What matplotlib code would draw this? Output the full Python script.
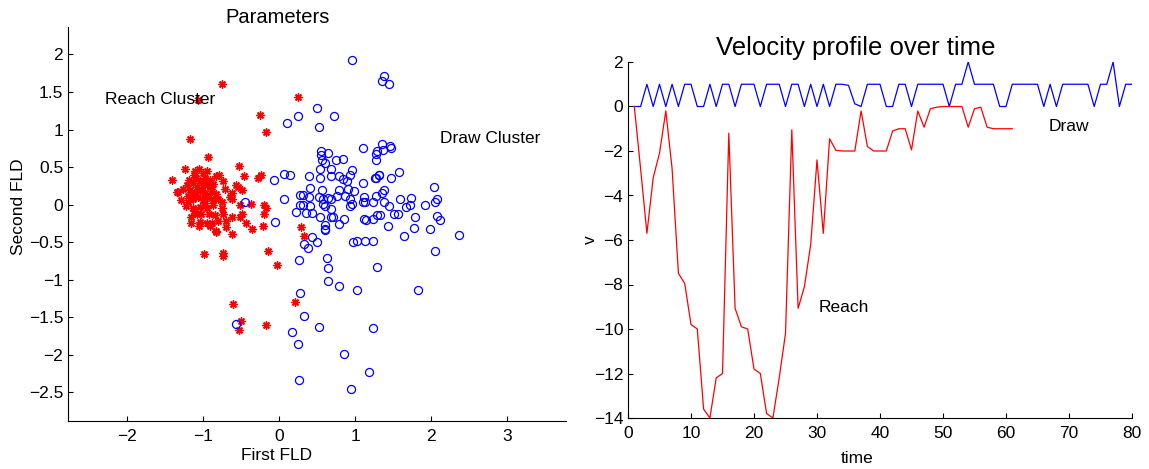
import matplotlib
matplotlib.use("Agg")
import matplotlib.pyplot as plt
import numpy as np

plt.rcParams['font.family'] = ['Liberation Sans', 'DejaVu Sans']

# ---- Parameters (FLD projection) ----
draw_x = [0.96, 1.38, 1.36, 1.44, 0.50, 0.25, 0.10, 0.72, 0.53,
          1.11, 1.29, 1.28, 1.28, 0.55, 0.65, 0.55, 0.57, 0.60,
          0.75, 0.84, 0.54, 0.68, 0.96, 0.93, -0.07, 0.07, 0.14, 0.39, 0.54, 0.68,
          0.79, 0.84, 0.90, 1.27, 1.31, 1.10, 0.41, 0.56, 0.79, 0.91, 0.99,
          0.28, 0.31, 0.40, 0.52, 0.58, 0.65, 0.69, 0.76, 0.87, 0.93, 1.12, 1.13, 1.28, 0.07,
          0.28, 0.32, 0.41, 0.58, 0.61, 0.93, 0.96, 1.11, 1.23,
          0.23, 0.36, 0.44, 0.69, 0.71, 0.68, 0.54, 0.85, 0.79,
          0.60, 0.61, 0.61, 1.12, 1.15, 1.24, 1.29, -0.05, 0.43,
          1.35, 1.37, 1.46, 1.47, 1.32, 1.26, 1.47, 1.58, 2.03,
          1.38, 1.35, 1.38, 1.45, 1.59, 1.73, 1.72, 1.67, 1.92, 2.05, 2.08,
          1.51, 1.57, 1.33, 1.79, 2.08, 2.12, 1.43, 1.77, 1.98, 1.64, 2.37, 1.23, 2.05, 1.29,
          1.83, 1.24, 1.18,
          0.33, 0.38, 0.50, 0.97, 1.03, 1.13, 0.26, 0.63, 0.65, 0.64, 0.79, 1.02, 0.28,
          0.33, 0.53, 0.17, -0.56, 0.25, 0.85, 0.27, 0.94, -0.44]
draw_y = [1.93, 1.72, 1.65, 1.61, 1.29, 1.18, 1.09, 1.18, 1.04,
          0.76, 0.72, 0.68, 0.59, 0.72, 0.69, 0.66, 0.59, 0.55,
          0.60, 0.61, 0.48, 0.48, 0.46, 0.40, 0.33, 0.41, 0.39, 0.38, 0.36, 0.38,
          0.38, 0.34, 0.32, 0.36, 0.40, 0.29, 0.22, 0.20, 0.19, 0.21, 0.18,
          0.13, 0.13, 0.10, 0.10, 0.08, 0.09, 0.08, 0.12, 0.12, 0.08, 0.10, 0.04, 0.12, 0.08,
          0.00, 0.00, -0.02, 0.01, -0.02, -0.02, 0.01, 0.04, 0.03,
          -0.10, -0.11, -0.11, -0.06, -0.16, -0.16, -0.16, -0.19, -0.26,
          -0.27, -0.32, -0.34, -0.19, -0.20, -0.19, -0.14, -0.23, -0.43,
          0.81, 0.73, 0.78, 0.76, 0.39, 0.35, 0.36, 0.44, 0.23,
          0.19, 0.15, 0.04, -0.02, 0.07, 0.09, -0.01, -0.03, 0.00, 0.04, 0.08,
          -0.12, -0.12, -0.14, -0.16, -0.15, -0.20, -0.28, -0.31, -0.33, -0.42, -0.40, -0.48, -0.62, -0.83,
          -1.13, -1.64, -2.23,
          -0.52, -0.57, -0.50, -0.50, -0.49, -0.49, -0.73, -0.71, -0.84, -1.02, -1.08, -1.14, -1.17,
          -1.48, -1.63, -1.69, -1.59, -1.86, -1.99, -2.33, -2.45, 0.04]

reach_x = [-0.75, -1.06, 0.25, -0.25, -0.17, -1.17, -0.93,
           -0.24, -0.27, -0.20, -0.17, -0.19, -0.21, 0.29, 0.33,
           -0.83, -0.61, -0.35, -0.99, -0.74, -0.73, -0.14, -0.03,
           -0.60, -0.50, -0.53, -0.17, 0.21,
           -1.24, -1.05, -0.53, -0.46, -1.40, -1.11, -1.09, -1.13, -1.00, -0.82, -0.79, -0.73,
           -1.21, -1.26, -1.32, -1.17, -1.08, -1.02, -0.95, -0.91, -0.86, -0.71, -0.56, -0.54,
           -0.48, -0.61, -0.64, -0.61,
           -1.28, -1.19, -1.13, -1.06, -1.00, -0.92, -0.86, -0.80, -0.75, -0.51, -0.37,
           -1.13, -1.04, -0.95, -0.86, -0.75,
           -1.15, -1.08, -1.02, -0.92, -0.84, -0.73, -0.49, -0.51, -0.61,
           -1.15, -1.04, -0.95, -0.88, -0.80, -0.69, -1.05, -0.91, -0.43, -0.82, -0.69,
           -1.18, -1.04, -0.97, -0.90, -1.15, -0.98, -0.88, -1.22, -0.97, -0.83,
           -1.10, -0.95, -1.34, -1.20, -1.09, -0.99, -0.94, -1.12, -1.01]
reach_y = [1.61, 1.39, 1.43, 1.20, 0.97, 0.87, 0.63,
           0.40, 0.35, 0.00, -0.04, -0.13, -0.29, -0.30, -0.42,
           -0.36, -0.39, -0.32, -0.65, -0.64, -0.68, -0.62, -0.80,
           -1.32, -1.55, -1.67, -1.60, -1.30,
           0.48, 0.48, 0.51, 0.38, 0.33, 0.40, 0.35, 0.29, 0.42, 0.38, 0.39, 0.32,
           0.26, 0.21, 0.17, 0.19, 0.24, 0.21, 0.26, 0.24, 0.28, 0.21, 0.26, 0.24,
           0.20, 0.16, 0.10, 0.08,
           0.06, 0.04, 0.08, 0.10, 0.06, 0.10, 0.06, 0.08, 0.04, -0.01, 0.01,
           -0.05, -0.03, -0.05, -0.01, -0.05,
           -0.16, -0.12, -0.13, -0.12, -0.14, -0.12, -0.12, -0.16, -0.16,
           -0.24, -0.23, -0.25, -0.24, -0.22, -0.22, -0.28, -0.28, -0.25, -0.35, -0.30,
           0.33, 0.31, 0.36, 0.33, 0.12, 0.15, 0.18, -0.02, 0.02, 0.14,
           0.45, 0.45, 0.17, 0.12, 0.16, 0.30, 0.13, -0.08, 0.19]

# ---- Velocity profile ----
draw_v = [0, 0, 1, 0, 1, 0, 1, 0, 1, 1,
          0, 0, 1, 0, 1, 1, 0, 1, 1, 1,
          0, 1, 1, 1, 0, 1, 1, 0, 1, 0,
          1, 0, 1, 1, 0.95, 0.12, 0, 1, 1, 1,
          0, 0, 1, 1, 0, 1, 1, 1, 1, 1,
          0, 1, 1, 2, 1, 1, 1, 1, 0, 0,
          1, 1, 1, 1, 1, 0, 1, 0, 1, 1,
          1, 1, 1, 0, 1, 1, 2, 0, 1, 1]
reach_v = [0, -2.8, -5.7, -3.2, -2.1, -0.2, -2.8, -7.5, -7.95, -9.8,
           -10.0, -13.6, -14.0, -12.2, -12.0, -1.2, -9.07, -9.9, -10.0, -11.8,
           -12.0, -13.8, -14.0, -12.2, -10.2, -1.05, -9.07, -8.1, -6.2, -2.4,
           -5.7, -1.45, -1.97, -2.0, -2.0, -2.0, -0.2, -1.8, -2.0, -2.0,
           -2.0, -1.1, -1.0, -1.0, -1.95, -0.2, -0.93, -0.1, -0.03, 0,
           0, 0, 0, -0.93, -0.1, -0.03, -0.93, -1.0, -1.0, -1.0, -1.0]
t_draw = np.arange(1, len(draw_v) + 1)
t_reach = np.arange(1, len(reach_v) + 1)

W, H = 1149, 469
fig = plt.figure(figsize=(W / 100, H / 100), dpi=100)
ax1 = fig.add_axes([68 / W, 1 - 421 / H, 498 / W, (421 - 26.7) / H])
ax2 = fig.add_axes([628 / W, 1 - 418 / H, 504 / W, 356 / H])

ax1.plot(reach_x, reach_y, linestyle='none', marker=(8, 2, 0), color='red',
         markersize=5.8, markeredgewidth=1.0)
ax1.plot(draw_x, draw_y, linestyle='none', marker='o', markerfacecolor='none',
         markeredgecolor='blue', markersize=5.8, markeredgewidth=0.9)
ax1.set_xlim(-2.77, 3.77)
ax1.set_ylim(-2.88, 2.37)
ax1.set_xticks([-2, -1, 0, 1, 2, 3])
ax1.set_yticks(np.arange(-2.5, 2.01, 0.5))
ax1.set_yticklabels(['−2.5', '−2', '−1.5', '−1', '−0.5', '0', '0.5', '1', '1.5', '2'])
ax1.text(-2.28, 1.40, 'Reach Cluster', fontsize=12.5, va='center')
ax1.text(2.12, 0.88, 'Draw Cluster', fontsize=12.5, va='center')
ax1.set_title('Parameters', fontsize=14.5, x=0.42, pad=3)
ax1.set_xlabel('First FLD', fontsize=12.5)
ax1.set_ylabel('Second FLD', fontsize=12.5)
ax1.xaxis.set_label_coords(0.418, -0.068)
ax1.yaxis.set_label_coords(-0.085, 0.543)

ax2.plot(t_draw, draw_v, color='blue', linewidth=0.9)
ax2.plot(t_reach, reach_v, color='red', linewidth=0.9)
ax2.set_xlim(0, 80)
ax2.set_ylim(-14, 2)
ax2.set_xticks(np.arange(0, 81, 10))
ax2.set_yticks(np.arange(-14, 3, 2))
ax2.text(66.8, -0.9, 'Draw', fontsize=12.5, va='center')
ax2.text(30.2, -9.03, 'Reach', fontsize=12.5, va='center')
ax2.set_title('Velocity profile over time', fontsize=18.5, x=0.452, pad=5)
ax2.set_xlabel('time', fontsize=12.5)
ax2.set_ylabel('v', fontsize=12.5)
ax2.xaxis.set_label_coords(0.454, -0.092)
ax2.yaxis.set_label_coords(-0.06, 0.5)

for ax in (ax1, ax2):
    ax.spines['top'].set_visible(False)
    ax.spines['right'].set_visible(False)
    ax.spines['left'].set_linewidth(0.8)
    ax.spines['bottom'].set_linewidth(0.8)
    ax.tick_params(direction='in', length=3.5, width=0.8, labelsize=12.5)
    ax.tick_params(axis='x', pad=6)

fig.savefig('out.png', dpi=100)
